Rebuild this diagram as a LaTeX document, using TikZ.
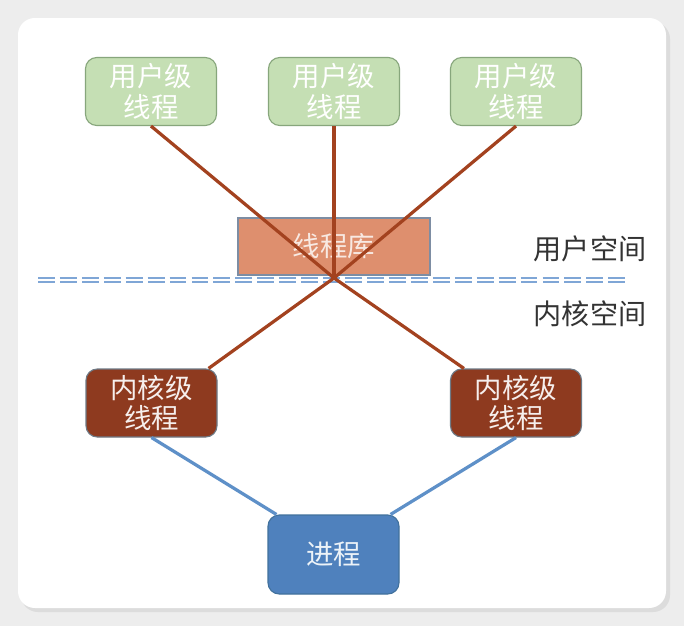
\documentclass[tikz,border=0pt]{standalone}
\usepackage{fontspec}
\newfontfamily\cjk{Noto Sans CJK SC}
\usetikzlibrary{calc}
\definecolor{bggray}{HTML}{EDEDED}
\definecolor{shgray}{HTML}{DCDCDC}
\definecolor{ufill}{HTML}{C5DFB4}
\definecolor{udraw}{HTML}{87A67C}
\definecolor{lfill}{HTML}{DE8F6E}
\definecolor{ldraw}{HTML}{7D8DA3}
\definecolor{kfill}{HTML}{8E3A1F}
\definecolor{kdraw}{HTML}{6E7A86}
\definecolor{pfill}{HTML}{4F81BD}
\definecolor{pdraw}{HTML}{41719C}
\definecolor{brn}{HTML}{A3421F}
\definecolor{lblue}{HTML}{5E90C8}
\definecolor{dblue}{HTML}{7FA6D6}
\tikzset{
  box/.style={draw, line width=0.8pt, rounded corners=8pt, minimum width=131*0.025cm, minimum height=68*0.025cm, inner sep=0pt, align=center, font=\cjk\fontsize{19.5}{22}\selectfont},
  uth/.style={box, fill=ufill, draw=udraw, text=white},
  kth/.style={box, fill=kfill, draw=kdraw, text=white!92!kfill},
  lib/.style={box, rounded corners=0pt, fill=lfill, draw=ldraw, text=white!80!lfill, minimum width=192*0.025cm, minimum height=57*0.025cm},
  prc/.style={box, fill=pfill, draw=pdraw, text=white!90!pfill, minimum height=79*0.025cm},
  lnk/.style={brn, line width=2.3pt},
  plnk/.style={lblue, line width=2.3pt},
  spc/.style={font=\cjk\fontsize{20}{22}\selectfont, text=black!80},
  sep/.style={dblue, double=white, double distance=1.3pt, line width=1.5pt, dash pattern=on 12pt off 3.6pt}
}
\begin{document}
\begin{tikzpicture}[x=0.025cm, y=-0.025cm]
		\fill[bggray] (0,0) rectangle (684,626);
		\fill[shgray, rounded corners=12pt] (21,22) rectangle (670,612);
		\fill[white, rounded corners=12pt] (18,18) rectangle (666,608);
		\node[lib] (lib) at (334,246.5) {线程库};
		\coordinate (s1) at (38,280);
		\coordinate (s2) at (630,280);
		\draw[sep] (s1) -- (s2);
		\node[uth] (u1) at (151,91.5) {用户级\\线程};
		\node[uth] (u2) at (334,91.5) {用户级\\线程};
		\node[uth] (u3) at (516,91.5) {用户级\\线程};
		\node[kth] (k1) at (151.5,403) {内核级\\线程};
		\node[kth] (k2) at (516,403) {内核级\\线程};
		\node[prc] (p) at (333.5,554.5) {进程};
		\node[spc] (us) at (590,249) {用户空间};
		\node[spc] (ks) at (590,314) {内核空间};
		\coordinate (h) at (334,278);
		\draw[lnk] (u1.south) -- (h); \draw[lnk] (u2.south) -- (h); \draw[lnk] (u3.south) -- (h);
		\draw[lnk] (h) -- ($(k1.north east)+(-9,0)$); \draw[lnk] (h) -- ($(k2.north west)+(14,0)$);
		\draw[plnk] (k1.south) -- ($(p.north west)+(9,0)$); \draw[plnk] (k2.south) -- ($(p.north east)+(-9,0)$);
	\end{tikzpicture}
\end{document}
